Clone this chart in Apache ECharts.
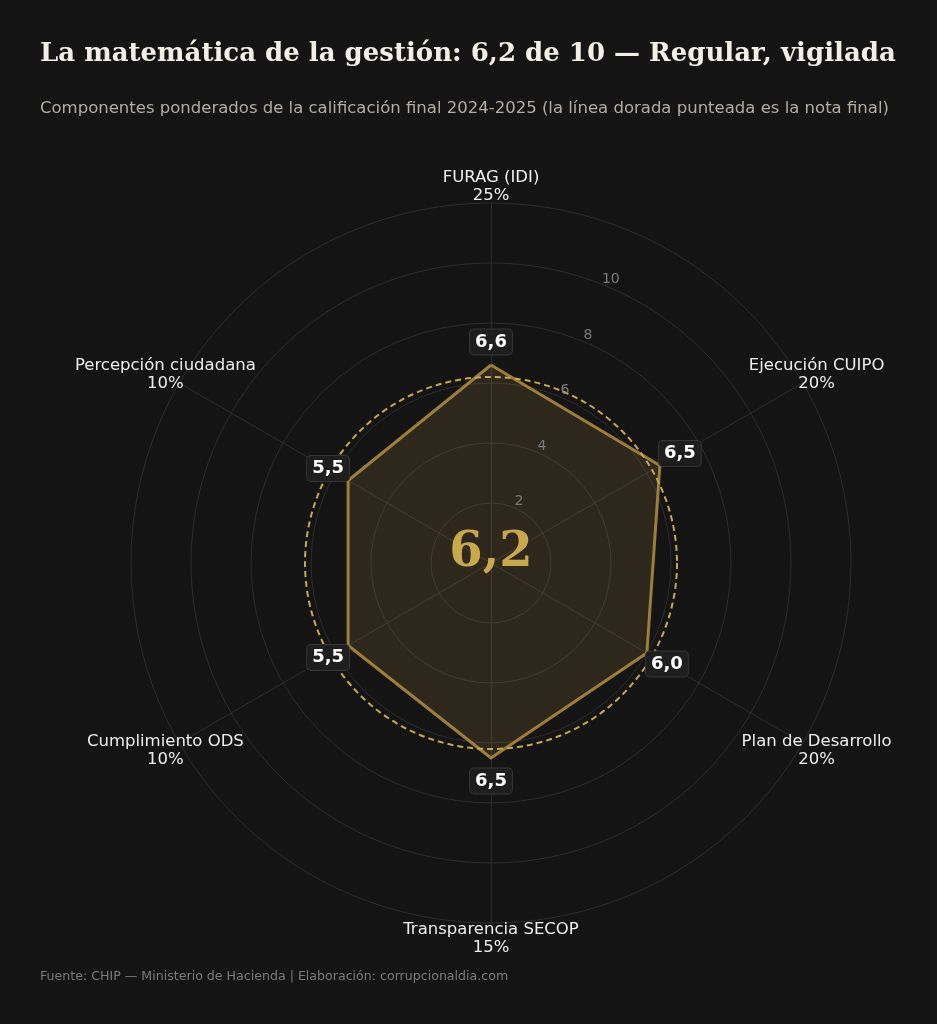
<!DOCTYPE html>
<html>
<head>
<meta charset="utf-8">
<script src="https://cdn.jsdelivr.net/npm/echarts@6/dist/echarts.min.js"></script>
<style>
html, body { margin: 0; padding: 0; background: #141414; }
#main { width: 937px; height: 1024px; }
</style>
</head>
<body>
<div id="main"></div>
<script>
// componentes en orden de lectura (sentido horario desde arriba)
var componentes = ['FURAG (IDI)', 'Ejecución CUIPO', 'Plan de Desarrollo', 'Transparencia SECOP', 'Cumplimiento ODS', 'Percepción ciudadana'];
var pesos = ['25%', '20%', '20%', '15%', '10%', '10%'];
var notas = [6.6, 6.5, 6.0, 6.5, 5.5, 5.5];
var notaFinal = 6.2;
var escalaMax = 12;
var ticks = [2, 4, 6, 8, 10];

var centro = [491, 563];
var radio = 360;
var dorado = '#c9a84c';

function coma(v) {
  return v.toFixed(1).replace('.', ',');
}

// el radar de echarts avanza en sentido antihorario: se invierte el orden
var orden = [0];
for (var k = componentes.length - 1; k > 0; k--) orden.push(k);

var indicadores = orden.map(function (i) {
  return { name: componentes[i] + '\n' + pesos[i], min: 0, max: escalaMax };
});
var valoresRadar = orden.map(function (i) { return notas[i]; });

var paso = 360 / componentes.length;

// etiquetas de valor, desplazadas hacia afuera del vértice
var etiquetas = notas.map(function (v, i) {
  var a = i * paso * Math.PI / 180;
  return {
    value: [v, i * paso],
    label: { offset: [Math.round(23 * Math.sin(a)), Math.round(-23 * Math.cos(a))] }
  };
});

// punto invisible que solo sirve de ancla para un texto
var ancla = { color: 'transparent', opacity: 1 };

var chart = echarts.init(document.getElementById('main'));

var option = {
  backgroundColor: '#141414',
  textStyle: { fontFamily: 'DejaVu Sans' },
  title: [
    {
      text: 'La matemática de la gestión: 6,2 de 10 — Regular, vigilada',
      left: 35, top: 36,
      textStyle: { fontFamily: 'DejaVu Serif', fontWeight: 'bold', fontSize: 26, color: '#f3efe6' }
    },
    {
      text: 'Componentes ponderados de la calificación final 2024-2025 (la línea dorada punteada es la nota final)',
      left: 35, top: 95,
      textStyle: { fontWeight: 'normal', fontSize: 16.5, color: '#b3ada3' }
    },
    {
      text: 'Fuente: CHIP — Ministerio de Hacienda | Elaboración: corrupcionaldia.com',
      left: 35, top: 965,
      textStyle: { fontWeight: 'normal', fontSize: 12.6, color: '#7c7a76' }
    }
  ],
  radar: {
    center: centro,
    radius: radio,
    startAngle: 90,
    shape: 'circle',
    splitNumber: 6,
    indicator: indicadores,
    nameGap: 16,
    axisName: {
      color: '#eeeeee', fontSize: 16.5, lineHeight: 18,
      align: 'center', verticalAlign: 'middle'
    },
    splitLine: { lineStyle: { color: '#2d2d2d', width: 1 } },
    splitArea: { show: false },
    axisLine: { lineStyle: { color: '#2d2d2d', width: 1 } },
    axisTick: { show: false },
    axisLabel: { show: false }
  },
  polar: { center: centro, radius: radio },
  angleAxis: { type: 'value', min: 0, max: 360, startAngle: 90, clockwise: true, show: false },
  radiusAxis: { type: 'value', min: 0, max: escalaMax, show: false },
  series: [
    {
      type: 'radar',
      symbol: 'none',
      z: 2,
      lineStyle: { color: '#9c7b34', width: 3 },
      areaStyle: { color: 'rgba(201,162,74,0.2)' },
      data: [{ value: valoresRadar, name: 'Componentes' }]
    },
    {
      // circunferencia punteada de la nota final
      type: 'custom',
      coordinateSystem: 'polar',
      z: 3,
      silent: true,
      data: [[notaFinal, 0]],
      renderItem: function (params, api) {
        var c = api.coord([0, 0]);
        var p = api.coord([api.value(0), 0]);
        var r = Math.sqrt(Math.pow(p[0] - c[0], 2) + Math.pow(p[1] - c[1], 2));
        return {
          type: 'circle',
          shape: { cx: c[0], cy: c[1], r: r },
          style: { fill: 'none', stroke: dorado, lineWidth: 2, lineDash: [6, 4] }
        };
      }
    },
    {
      // marcas de la escala
      type: 'scatter',
      coordinateSystem: 'polar',
      symbolSize: 1,
      itemStyle: ancla,
      silent: true,
      z: 4,
      data: ticks.map(function (t) { return [t, 22.5]; }),
      label: {
        show: true, position: 'inside', offset: [5, -6],
        color: '#7a7a7a', fontSize: 14,
        formatter: function (p) { return String(p.value[0]); }
      }
    },
    {
      // valores de cada componente
      type: 'scatter',
      coordinateSystem: 'polar',
      symbolSize: 1,
      itemStyle: ancla,
      silent: true,
      z: 5,
      data: etiquetas,
      label: {
        show: true, position: 'inside',
        color: '#ffffff', fontSize: 18, fontWeight: 'bold',
        backgroundColor: '#1e1e1e', borderColor: '#363636', borderWidth: 1, borderRadius: 4,
        padding: [4, 5, 3, 5],
        formatter: function (p) { return coma(p.value[0]); }
      }
    },
    {
      // nota final en el centro
      type: 'scatter',
      coordinateSystem: 'polar',
      symbolSize: 1,
      itemStyle: ancla,
      silent: true,
      z: 6,
      data: [[0, 0, notaFinal]],
      label: {
        show: true, position: 'inside', offset: [0, -9],
        color: dorado, fontSize: 48, fontWeight: 'bold', fontFamily: 'DejaVu Serif',
        formatter: function (p) { return coma(p.value[2]); }
      }
    }
  ]
};

chart.setOption(option);
</script>
</body>
</html>
